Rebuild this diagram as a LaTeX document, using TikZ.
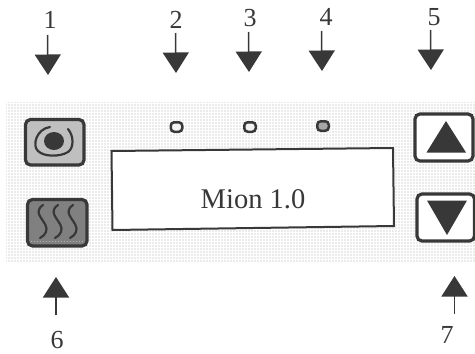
\documentclass[tikz,border=0pt]{standalone}
\usepackage{fontspec}
\setmainfont{Liberation Serif}
\usetikzlibrary{arrows.meta}
\definecolor{ink}{HTML}{383838}
\tikzset{
  btn/.style={draw=ink,line width=3.2pt,rounded corners=5pt},
  lbl/.style={text=ink,font=\fontsize{26}{26}\selectfont,inner sep=0pt},
  pointer/.style={draw=ink,line width=1.5pt,-{Triangle[length=20.5pt,width=26pt,fill=ink]}},
  led/.style={draw=ink,line width=2.5pt,rounded corners=3.5pt,minimum width=11.5pt,minimum height=9.5pt,inner sep=0pt},
  tri/.style={fill=ink,draw=none},
  steam/.style={draw=ink,line width=2.2pt,line cap=round}
}
\begin{document}
\begin{tikzpicture}[x=1pt,y=-1pt]
\useasboundingbox (0,0) rectangle (475,354);
\fill[white] (0,0) rectangle (475,354);
% panel
\fill[black!8] (6,102) rectangle (475,262);
\begin{scope}
\clip (6,102) rectangle (475,262);
\foreach \gx in {7,10,...,475} \draw[white,line width=.7pt] (\gx,102) -- (\gx,262);
\foreach \gy in {103,106,...,262} \draw[white,line width=.7pt] (6,\gy) -- (475,\gy);
\end{scope}
% buttons
\draw[btn,fill=black!25] (25.5,119.5) rectangle (84,165);
\fill[ink] (54,141) ellipse [x radius=10,y radius=9];
\draw[steam] (50,127) .. controls (36,129) and (32,146) .. (38,151) .. controls (44,157) and (60,157) .. (68,152);
\draw[steam] (68,129) .. controls (74,136) and (74,148) .. (68,152);
\draw[btn,fill=black!50] (27.5,199.5) rectangle (87,246);
\draw[steam] (43,205) .. controls (30,214) and (50,222) .. (46,232) .. controls (45,235) and (43,236) .. (40,238);
\draw[steam] (58,205) .. controls (45,214) and (65,222) .. (61,232) .. controls (60,235) and (58,236) .. (55,238);
\draw[steam] (73,205) .. controls (60,214) and (80,222) .. (76,232) .. controls (75,235) and (73,236) .. (70,238);
\draw[white!70!black,line width=1pt,dotted] (31,241) -- (83,241);
% display
\draw[ink,line width=2pt,fill=white] (111.5,151) -- (393,148) -- (394,226) -- (112.5,230) -- cycle;
\node[text=ink,inner sep=0pt,font=\fontsize{28.5}{28.5}\selectfont] (title) at (253,199) {Mion 1.0};
% LEDs
\node[led,fill=black!5] (ledA) at (176.5,127) {};
\node[led,fill=black!5] (ledB) at (250,127) {};
\node[led,fill=black!35] (ledC) at (323,126) {};
% arrow buttons
\draw[btn,fill=white] (415,114) rectangle (473,161);
\fill[tri] (446,121) -- (466,152.5) -- (426.5,152.5) -- cycle;
\draw[btn,fill=white] (417,194) rectangle (474.5,241);
\fill[tri] (427,200.5) -- (467,200.5) -- (447,235) -- cycle;
% pointers
\coordinate (a1) at (47.5,35); \coordinate (b1) at (48,75);
\coordinate (a2) at (175.5,33); \coordinate (b2) at (176,73);
\coordinate (a3) at (248.5,32); \coordinate (b3) at (249,72);
\coordinate (a4) at (321.5,31); \coordinate (b4) at (322,71);
\coordinate (a5) at (430.5,30); \coordinate (b5) at (431,70);
\coordinate (a6) at (56,315); \coordinate (b6) at (56,277);
\coordinate (a7) at (454.5,314); \coordinate (b7) at (454.5,276);
\foreach \i in {1,...,7} \draw[pointer] (a\i) -- (b\i);
\node[lbl] (n1) at (50,20) {1};
\node[lbl] (n2) at (176,20) {2};
\node[lbl] (n3) at (250,18.5) {3};
\node[lbl] (n4) at (326,17) {4};
\node[lbl] (n5) at (434,17) {5};
\node[lbl] (n6) at (57,340) {6};
\node[lbl] (n7) at (447,335) {7};
\end{tikzpicture}
\end{document}
